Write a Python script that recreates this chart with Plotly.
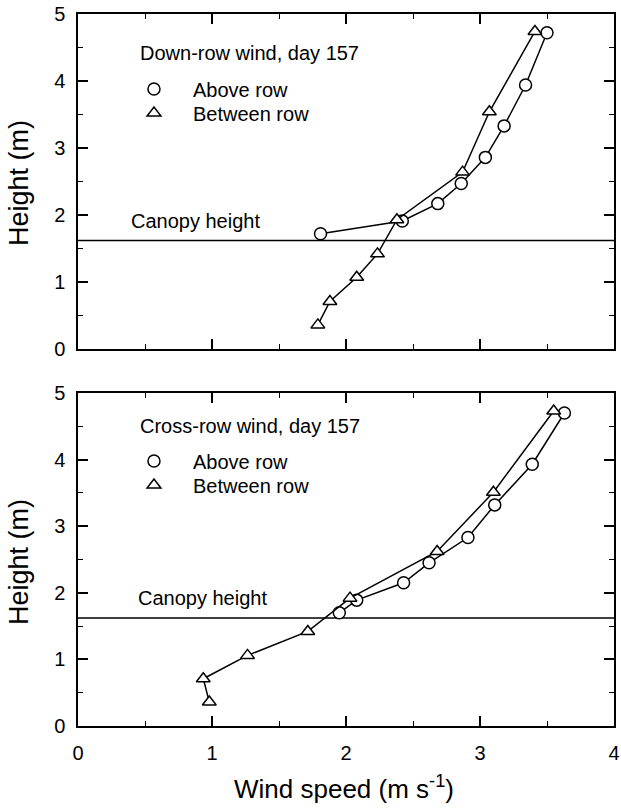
import plotly.graph_objects as go

# ---- data ----
CANOPY_HEIGHT = 1.62

down_above_speed = [1.81, 2.42, 2.685, 2.86, 3.04, 3.18, 3.34, 3.50]
down_above_height = [1.72, 1.91, 2.17, 2.47, 2.86, 3.33, 3.94, 4.72]
down_between_speed = [1.79, 1.88, 2.08, 2.235, 2.38, 2.87, 3.07, 3.41]
down_between_height = [0.36, 0.71, 1.07, 1.42, 1.93, 2.64, 3.54, 4.74]

cross_above_speed = [1.95, 2.08, 2.43, 2.62, 2.91, 3.11, 3.39, 3.63]
cross_above_height = [1.70, 1.89, 2.15, 2.45, 2.83, 3.32, 3.93, 4.70]
cross_between_speed = [0.98, 0.935, 1.265, 1.715, 2.03, 2.68, 3.10, 3.55]
cross_between_height = [0.36, 0.71, 1.06, 1.42, 1.92, 2.62, 3.51, 4.73]

x_ticks = [0, 1, 2, 3, 4]
y_ticks = [0, 1, 2, 3, 4, 5]

FONT = "Liberation Sans, Arial, sans-serif"
BLACK = "black"

circle = dict(symbol="circle", size=12, color="white", line=dict(color=BLACK, width=1.5))
triangle = dict(symbol="triangle-up", size=12, color="white", line=dict(color=BLACK, width=1.5))
line = dict(color=BLACK, width=1.5)

fig = go.Figure()

# top panel
fig.add_trace(go.Scatter(x=down_above_speed, y=down_above_height, mode="lines+markers",
                         marker=circle, line=line, showlegend=False, xaxis="x", yaxis="y"))
fig.add_trace(go.Scatter(x=down_between_speed, y=down_between_height, mode="lines+markers",
                         marker=triangle, line=line, showlegend=False, xaxis="x", yaxis="y"))
# bottom panel
fig.add_trace(go.Scatter(x=cross_above_speed, y=cross_above_height, mode="lines+markers",
                         marker=circle, line=line, showlegend=False, xaxis="x2", yaxis="y2"))
fig.add_trace(go.Scatter(x=cross_between_speed, y=cross_between_height, mode="lines+markers",
                         marker=triangle, line=line, showlegend=False, xaxis="x2", yaxis="y2"))

# legend-only keys (one legend box per key, so spacing matches the reference)
legend_keys = [("legend", "Above row", circle), ("legend2", "Between row", triangle),
               ("legend3", "Above row", circle), ("legend4", "Between row", triangle)]
for leg, name, mk in legend_keys:
    fig.add_trace(go.Scatter(x=[None], y=[None], mode="markers", marker=mk,
                             name=name, legend=leg, showlegend=True))

axis_common = dict(
    range=[0, 4], showgrid=False, zeroline=False, showline=True, linecolor=BLACK, linewidth=1.5,
    mirror="ticks", ticks="inside", ticklen=10, tickwidth=1.5, tickcolor=BLACK,
    minor=dict(ticks="inside", ticklen=5, tickwidth=1.2, tickcolor=BLACK, dtick=0.5),
    tickfont=dict(family=FONT, size=20, color=BLACK), automargin=False,
    tickmode="array", tickvals=x_ticks, ticktext=[str(v) for v in x_ticks],
    ticklabeloverflow="allow",
)
yaxis_common = dict(
    range=[0, 5], showgrid=False, zeroline=False, showline=True, linecolor=BLACK, linewidth=1.5,
    mirror="ticks", ticks="inside", ticklen=10, tickwidth=1.5, tickcolor=BLACK,
    minor=dict(ticks="inside", ticklen=5, tickwidth=1.2, tickcolor=BLACK, dtick=0.5),
    tickmode="array", tickvals=y_ticks, ticktext=[str(v) for v in y_ticks],
    tickfont=dict(family=FONT, size=20, color=BLACK), ticklabelstandoff=7, automargin=False,
    ticklabeloverflow="allow",
)


def legend_box(ypos):
    return dict(x=0.069, y=ypos, xanchor="left", yanchor="middle", bgcolor="rgba(0,0,0,0)",
                font=dict(family=FONT, size=20, color=BLACK), itemwidth=68)


def label(text, xref, yref, x, y):
    return dict(text=text, xref=xref, yref=yref, x=x, y=y, xanchor="left", yanchor="middle",
                showarrow=False, font=dict(family=FONT, size=20, color=BLACK))


Y_TITLE_FONT = dict(family=FONT, size=27, color=BLACK)
X_TITLE_FONT = dict(family=FONT, size=26, color=BLACK)

fig.update_layout(
    width=621, height=811,
    margin=dict(l=78, r=7, t=14, b=85, autoexpand=False),
    paper_bgcolor="white", plot_bgcolor="white",
    font=dict(family=FONT, color=BLACK),
    xaxis=dict(axis_common, domain=[0, 1], anchor="y", showticklabels=False),
    yaxis=dict(yaxis_common, domain=[0.5295, 1], anchor="x"),
    xaxis2=dict(axis_common, domain=[0, 1], anchor="y2", ticklabelstandoff=8),
    yaxis2=dict(yaxis_common, domain=[0, 0.4677], anchor="x2"),
    legend=legend_box(0.8947),
    legend2=legend_box(0.8610),
    legend3=legend_box(0.3722),
    legend4=legend_box(0.3385),
    shapes=[
        dict(type="line", xref="x domain", yref="y", x0=0, x1=1, y0=CANOPY_HEIGHT, y1=CANOPY_HEIGHT,
             line=dict(color=BLACK, width=1.5), layer="below"),
        dict(type="line", xref="x2 domain", yref="y2", x0=0, x1=1, y0=CANOPY_HEIGHT, y1=CANOPY_HEIGHT,
             line=dict(color=BLACK, width=1.5), layer="below"),
    ],
    annotations=[
        label("Down-row wind, day 157", "x", "y", 0.444, 4.42),
        label("Canopy height", "x", "y", 0.38, 1.91),
        label("Cross-row wind, day 157", "x2", "y2", 0.444, 4.50),
        label("Canopy height", "x2", "y2", 0.433, 1.92),
        dict(text="Height (m)", xref="paper", yref="paper", x=-0.11, y=0.7626, textangle=-90,
             xanchor="center", yanchor="middle", showarrow=False, font=Y_TITLE_FONT),
        dict(text="Height (m)", xref="paper", yref="paper", x=-0.11, y=0.2303, textangle=-90,
             xanchor="center", yanchor="middle", showarrow=False, font=Y_TITLE_FONT),
        dict(text="Wind speed (m s<sup>-1</sup>)", xref="paper", yref="paper", x=0.496, y=-0.0857,
             xanchor="center", yanchor="middle", showarrow=False, font=X_TITLE_FONT),
    ],
)

# remove the browser's default 8px body margin so the figure fills the window exactly
fig.write_html("out.html", config={"displayModeBar": False},
               post_script="document.body.style.margin='0';")
